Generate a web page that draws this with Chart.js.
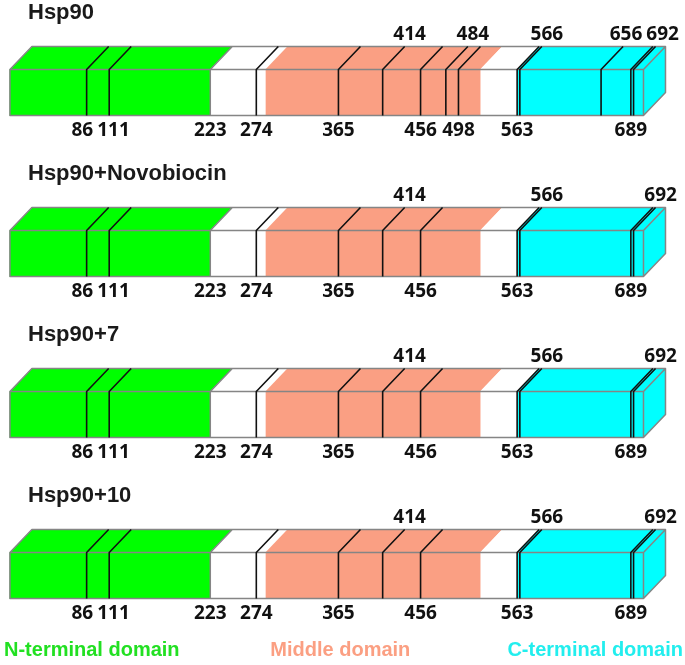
<!DOCTYPE html>
<html>
<head>
<meta charset="utf-8">
<script src="https://cdn.jsdelivr.net/npm/chart.js@4"></script>
<style>
	html, body { margin: 0; padding: 0; background: #fff; }
	#wrap { width: 685px; height: 665px; }
</style>
</head>
<body>
<div id="wrap"><canvas id="chart" width="685" height="665"></canvas></div>
<script>
// Samples, one 3D bar each
var rowNames = ["Hsp90", "Hsp90+Novobiocin", "Hsp90+7", "Hsp90+10"];

// Domain segments along the sequence (residue numbers)
var nTerminal = [1, 223];
var linker = [223, 284];
var middle = [284, 522];
var gap = [522, 563];
var cTerminal = [563, 703];

// Marked residues: lines on the bar, labels under and over it
var sitesHsp90 = [86, 111, 274, 365, 414, 456, 484, 498, 563, 566, 656, 689, 692];
var sitesOther = [86, 111, 274, 365, 414, 456, 563, 566, 689, 692];
var belowHsp90 = [86, 111, 223, 274, 365, 456, 498, 563, 689];
var aboveHsp90 = [414, 484, 566, 656, 692];
var belowOther = [86, 111, 223, 274, 365, 456, 563, 689];
var aboveOther = [414, 566, 692];

var rowSites = [sitesHsp90, sitesOther, sitesOther, sitesOther];
var rowBelow = [belowHsp90, belowOther, belowOther, belowOther];
var rowAbove = [aboveHsp90, aboveOther, aboveOther, aboveOther];

var legendNames = ["N-terminal domain", "Middle domain", "C-terminal domain"];

var GREEN = "#00ff00";
var SALMON = "#fa9f83";
var CYAN = "#00ffff";
var EDGE = "#858585";
var DX = 22, DY = 23; // depth of the box

function segData(seg) {
	return rowNames.map(function () { return seg; });
}

function makeSet(label, seg, color) {
	return {
		label: label,
		data: segData(seg),
		backgroundColor: color,
		borderWidth: 0,
		barThickness: 46,
		grouped: false,
	};
}

// spread labels that would overlap
function spreadLabels(ctx, items) {
	for (var k = 1; k < items.length; k++) {
		var a = items[k - 1], b = items[k];
		var need = (a.w + b.w) / 2 + 4;
		var have = b.x - a.x;
		if (have < need) {
			var d = (need - have) / 2;
			a.x -= d;
			b.x += d;
		}
	}
	items.forEach(function (it) { ctx.fillText(it.t, it.x, it.y); });
}

var boxPlugin = {
	id: "box3d",
	afterDatasetsDraw: function (chart) {
		var ctx = chart.ctx;
		var xs = chart.scales.x;
		var meta0 = chart.getDatasetMeta(0);
		var px = function (v) { return xs.getPixelForValue(v); };

		rowNames.forEach(function (name, i) {
			var bar = meta0.data[i];
			var top = bar.y - bar.height / 2;
			var bottom = bar.y + bar.height / 2;
			var x0 = px(nTerminal[0]);
			var xEnd = px(cTerminal[1]);

			// top faces, one per segment
			chart.data.datasets.forEach(function (ds) {
				var seg = ds.data[i];
				var a = px(seg[0]), b = px(seg[1]);
				ctx.beginPath();
				ctx.moveTo(a, top);
				ctx.lineTo(b, top);
				ctx.lineTo(b + DX, top - DY);
				ctx.lineTo(a + DX, top - DY);
				ctx.closePath();
				ctx.fillStyle = ds.backgroundColor;
				ctx.fill();
			});

			// right end face
			ctx.beginPath();
			ctx.moveTo(xEnd, top);
			ctx.lineTo(xEnd + DX, top - DY);
			ctx.lineTo(xEnd + DX, bottom - DY);
			ctx.lineTo(xEnd, bottom);
			ctx.closePath();
			ctx.fillStyle = CYAN;
			ctx.fill();

			// box outline
			ctx.strokeStyle = EDGE;
			ctx.lineWidth = 1.5;
			ctx.lineJoin = "round";
			ctx.beginPath();
			ctx.rect(x0, top, xEnd - x0, bottom - top);
			ctx.moveTo(x0, top);
			ctx.lineTo(x0 + DX, top - DY);
			ctx.lineTo(xEnd + DX, top - DY);
			ctx.lineTo(xEnd + DX, bottom - DY);
			ctx.lineTo(xEnd, bottom);
			ctx.moveTo(xEnd, top);
			ctx.lineTo(xEnd + DX, top - DY);
			// N-terminal domain boundary
			var nb = px(nTerminal[1]);
			ctx.moveTo(nb, bottom);
			ctx.lineTo(nb, top);
			ctx.lineTo(nb + DX, top - DY);
			ctx.stroke();

			// residue lines
			ctx.strokeStyle = "#111";
			ctx.lineWidth = 1.6;
			ctx.beginPath();
			rowSites[i].forEach(function (v) {
				var x = px(v);
				ctx.moveTo(x, bottom);
				ctx.lineTo(x, top);
				ctx.lineTo(x + DX, top - DY);
			});
			ctx.stroke();

			// residue labels
			ctx.fillStyle = "#111";
			ctx.font = "bold 19px 'Open Sans', sans-serif";
			ctx.textAlign = "center";
			ctx.textBaseline = "middle";
			spreadLabels(ctx, rowBelow[i].map(function (v) {
				var t = String(v);
				return { t: t, x: px(v), y: bottom + 15, w: ctx.measureText(t).width };
			}));
			spreadLabels(ctx, rowAbove[i].map(function (v) {
				var t = String(v);
				return { t: t, x: px(v) + DX + 5, y: top - DY - 12, w: ctx.measureText(t).width };
			}));

			// sample title
			ctx.font = "bold 22px 'Liberation Sans', Arial, sans-serif";
			ctx.textAlign = "left";
			ctx.fillStyle = "#1a1a1a";
			ctx.fillText(name, 28, top - DY - 34);
		});

		// domain legend along the bottom
		var ly = chart.height - 15;
		ctx.font = "bold 20px 'Liberation Sans', Arial, sans-serif";
		ctx.textBaseline = "middle";
		ctx.textAlign = "left";
		ctx.fillStyle = "#22e022";
		ctx.fillText(legendNames[0], 4, ly);
		ctx.fillStyle = "#fb9f82";
		ctx.fillText(legendNames[1], px(middle[0]) + 5, ly);
		ctx.textAlign = "right";
		ctx.fillStyle = "#22eeee";
		ctx.fillText(legendNames[2], chart.width - 2, ly);
	},
};

new Chart(document.getElementById("chart"), {
	type: "bar",
	data: {
		labels: rowNames,
		datasets: [
			makeSet("N-terminal domain", nTerminal, GREEN),
			makeSet("Linker", linker, "#ffffff"),
			makeSet("Middle domain", middle, SALMON),
			makeSet("Gap", gap, "#ffffff"),
			makeSet("C-terminal domain", cTerminal, CYAN),
		],
	},
	options: {
		indexAxis: "y",
		responsive: false,
		animation: false,
		layout: { padding: { top: 12, bottom: 9, left: 0, right: 0 } },
		plugins: {
			legend: { display: false },
			tooltip: { enabled: false },
		},
		scales: {
			x: { type: "linear", min: -10, max: 749, display: false },
			y: { display: false },
		},
	},
	plugins: [boxPlugin],
});
</script>
</body>
</html>
